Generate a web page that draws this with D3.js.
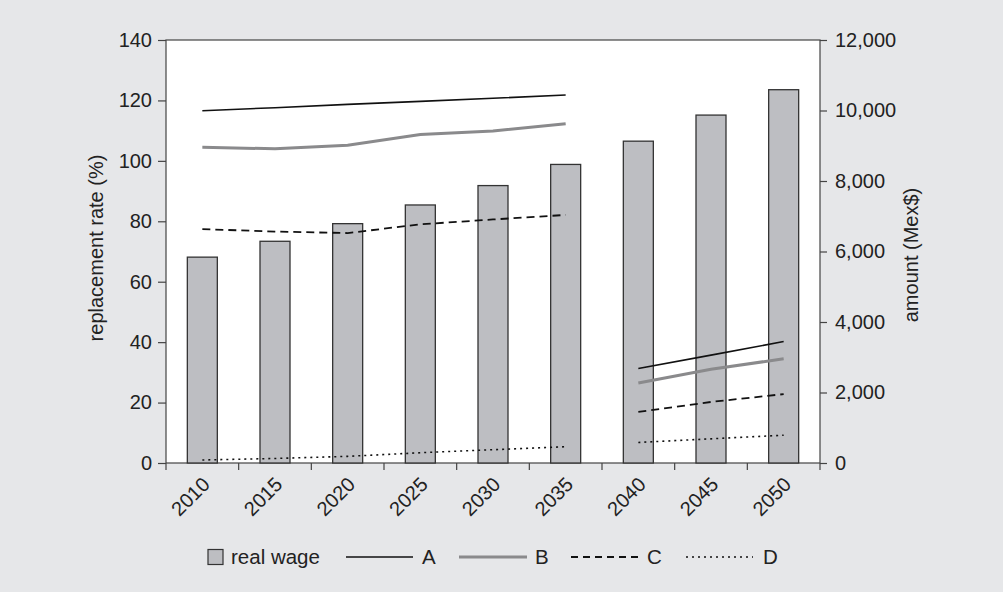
<!DOCTYPE html>
<html><head><meta charset="utf-8">
<script src="https://cdn.jsdelivr.net/npm/d3@7"></script>
<style>
html,body{margin:0;padding:0;background:#e6e7e9;}
svg{display:block;font-family:"Liberation Sans",Arial,Helvetica,sans-serif;}
</style></head>
<body>
<svg id="chart" width="1003" height="592"></svg>
<script>
const years = ["2010","2015","2020","2025","2030","2035","2040","2045","2050"];
const realWage = [5840, 6290, 6790, 7320, 7870, 8470, 9130, 9870, 10590];
const seriesA = [116.6, 117.6, 118.7, 119.7, 120.7, 121.8, 31.3, 35.7, 40.2];
const seriesB = [104.5, 104.0, 105.2, 108.7, 109.9, 112.3, 26.5, 31.0, 34.5];
const seriesC = [77.4, 76.6, 76.1, 79.0, 80.6, 82.1, 16.9, 20.2, 22.8];
const seriesD = [1.0, 1.5, 2.2, 3.4, 4.4, 5.4, 6.8, 8.0, 9.2];
const leftTicks = [0, 20, 40, 60, 80, 100, 120, 140];
const rightTicks = [0, 2000, 4000, 6000, 8000, 10000, 12000];
const legendLabels = ["real wage", "A", "B", "C", "D"];

const svg = d3.select("#chart");
const L = 166, R = 820, T = 40, B = 463;

svg.append("rect").attr("x", L).attr("y", T).attr("width", R - L).attr("height", B - T)
  .attr("fill", "#fff").attr("stroke", "#444").attr("stroke-width", 1.2);

const x = d3.scaleBand().domain(years).range([L, R]).paddingInner(0).paddingOuter(0);
const yL = d3.scaleLinear().domain([0, 140]).range([B, T]);
const yR = d3.scaleLinear().domain([0, 12000]).range([B, T]);

const barW = 30;
svg.append("g").selectAll("rect").data(realWage).join("rect")
  .attr("x", (d, i) => x(years[i]) + x.bandwidth() / 2 - barW / 2)
  .attr("y", d => yR(d))
  .attr("width", barW)
  .attr("height", d => B - yR(d))
  .attr("fill", "#bdbec2").attr("stroke", "#333").attr("stroke-width", 1.3);

const seg1 = [0,1,2,3,4,5], seg2 = [6,7,8];
function drawSeries(vals, color, width, dash) {
  const line = d3.line().x(i => x(years[i]) + x.bandwidth() / 2).y(i => yL(vals[i]));
  [seg1, seg2].forEach(seg => {
    svg.append("path").attr("d", line(seg)).attr("fill", "none")
      .attr("stroke", color).attr("stroke-width", width)
      .attr("stroke-dasharray", dash || null);
  });
}
drawSeries(seriesA, "#111", 1.6, null);
drawSeries(seriesB, "#8a8a8c", 3, null);
drawSeries(seriesC, "#111", 1.8, "8,5");
drawSeries(seriesD, "#111", 1.6, "2,4");

// axes
const fs = "20px";
const gl = svg.append("g").attr("transform", `translate(${L},0)`)
  .call(d3.axisLeft(yL).tickValues(leftTicks).tickSize(8).tickPadding(6));
gl.selectAll("text").style("font-size", fs).attr("fill", "#222");
gl.selectAll("line,path").attr("stroke", "#444").attr("stroke-width", 1.2);
gl.select(".domain").remove();

const gr = svg.append("g").attr("transform", `translate(${R},0)`)
  .call(d3.axisRight(yR).tickValues(rightTicks).tickSize(7).tickPadding(8).tickFormat(d3.format(",")));
gr.selectAll("text").style("font-size", fs).attr("fill", "#222");
gr.selectAll("line,path").attr("stroke", "#444").attr("stroke-width", 1.2);
gr.select(".domain").remove();

const gx = svg.append("g").attr("transform", `translate(0,${B})`)
  .call(d3.axisBottom(x).tickSize(0).tickFormat(d => d));
gx.select(".domain").remove();
gx.selectAll("text").style("font-size", fs).attr("fill", "#222")
  .attr("text-anchor", "end")
  .attr("transform", "translate(-4,10) rotate(-45)")
  .attr("dx", "0").attr("dy", "0.75em");
// tick marks at band boundaries
const bounds = years.map(y => x(y)).concat([R]);
svg.append("g").selectAll("line").data(bounds).join("line")
  .attr("x1", d => d).attr("x2", d => d).attr("y1", B).attr("y2", B + 7)
  .attr("stroke", "#444").attr("stroke-width", 1.2);

// axis titles
svg.append("text").attr("transform", `translate(103,248) rotate(-90)`)
  .attr("text-anchor", "middle").style("font-size", fs).attr("fill", "#222")
  .text("replacement rate (%)");
svg.append("text").attr("transform", `translate(918,255) rotate(-90)`)
  .attr("text-anchor", "middle").style("font-size", fs).attr("fill", "#222")
  .text("amount (Mex$)");

// legend
const ly = 557;
const lfs = "20.5px";
const lg = svg.append("g");
lg.append("rect").attr("x", 208).attr("y", ly - 7.5).attr("width", 15).attr("height", 15)
  .attr("fill", "#bdbec2").attr("stroke", "#333").attr("stroke-width", 1.2);
lg.append("text").attr("x", 231).attr("y", ly + 7).style("font-size", lfs).attr("fill", "#222").text(legendLabels[0]);
const items = [
  {x1: 346, x2: 413, tx: 422, color: "#111", w: 1.6, dash: null, label: legendLabels[1]},
  {x1: 459, x2: 527, tx: 535, color: "#8a8a8c", w: 3, dash: null, label: legendLabels[2]},
  {x1: 571, x2: 639, tx: 647, color: "#111", w: 1.8, dash: "7,5", label: legendLabels[3]},
  {x1: 686, x2: 753, tx: 763, color: "#111", w: 1.6, dash: "2,4", label: legendLabels[4]}
];
items.forEach(it => {
  lg.append("line").attr("x1", it.x1).attr("x2", it.x2).attr("y1", ly).attr("y2", ly)
    .attr("stroke", it.color).attr("stroke-width", it.w).attr("stroke-dasharray", it.dash);
  lg.append("text").attr("x", it.tx).attr("y", ly + 7).style("font-size", lfs).attr("fill", "#222").text(it.label);
});
</script>
</body></html>
